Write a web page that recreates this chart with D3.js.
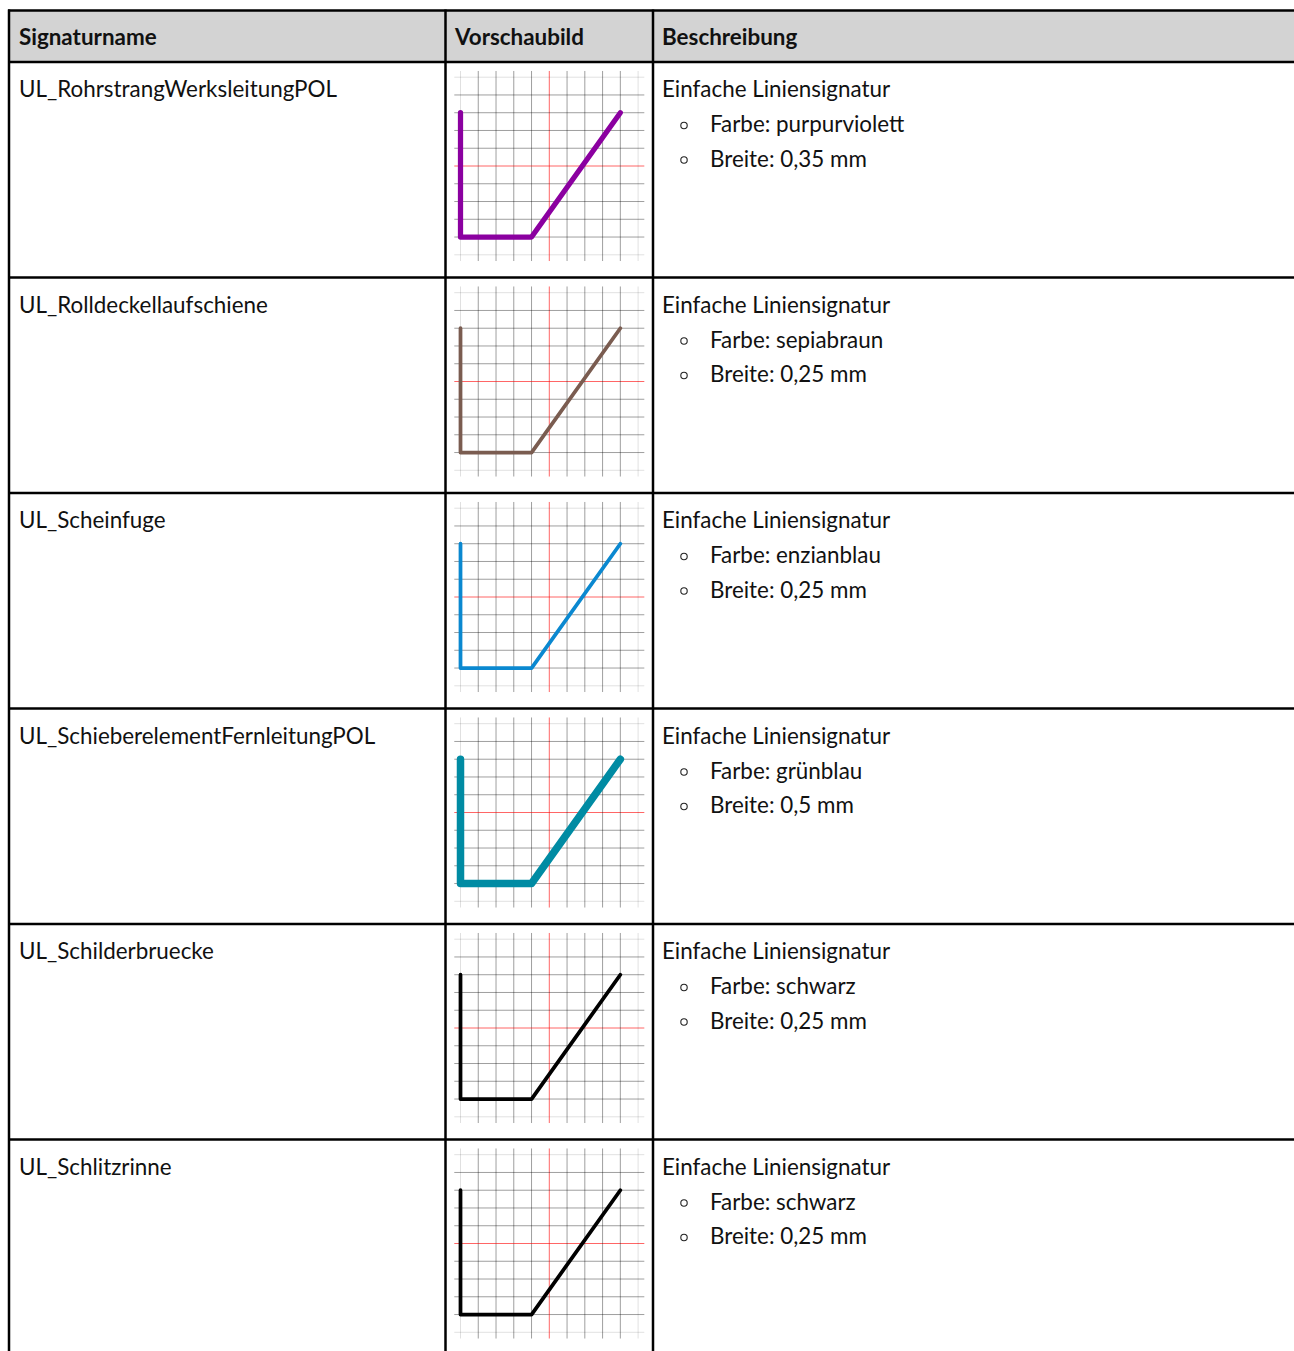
<!DOCTYPE html>
<html><head><meta charset="utf-8">
<script src="https://cdn.jsdelivr.net/npm/d3@7"></script>
<style>body{margin:0;background:#fff}svg{display:block}</style>
</head><body>
<script>
// ---- data ----
const headers = ["Signaturname", "Vorschaubild", "Beschreibung"];
const names = ["UL_RohrstrangWerksleitungPOL", "UL_Rolldeckellaufschiene", "UL_Scheinfuge",
  "UL_SchieberelementFernleitungPOL", "UL_Schilderbruecke", "UL_Schlitzrinne"];
const descTitle = "Einfache Liniensignatur";
const colorNames = ["purpurviolett", "sepiabraun", "enzianblau", "grünblau", "schwarz", "schwarz"];
const colorValues = ["#8b00a0", "#7a5c50", "#0a88d0", "#008ba3", "#000000", "#000000"];
const widthsMm = [0.35, 0.25, 0.25, 0.5, 0.25, 0.25];
const widthLabels = ["0,35", "0,25", "0,25", "0,5", "0,25", "0,25"];
const previewPath = [[-5, 3], [-5, -4], [-1, -4], [4, 3]];
const gridTicks = [-5, -4, -3, -2, -1, 0, 1, 2, 3, 4, 5];

// ---- layout ----
const W = 1294, H = 1351;
const font = "Lato, 'Open Sans', sans-serif";
const fs = 22.4;
const xLeft = 9, xCol1 = 445.5, xCol2 = 653;
const yTop = 10.5, yHead = 62, rowH = 215.5;
const svg = d3.select("body").append("svg").attr("width", W).attr("height", H);

svg.append("rect").attr("x", xLeft).attr("y", yTop).attr("width", W - xLeft + 5).attr("height", yHead - yTop)
  .attr("fill", "#d3d3d3");

const hx = [19, 455, 662];
svg.selectAll("text.h").data(headers).join("text").attr("class", "h")
  .attr("x", (d, i) => hx[i]).attr("y", 45)
  .attr("font-family", font).attr("font-weight", "bold").attr("font-size", fs).attr("fill", "#111")
  .text(d => d);

const rows = svg.selectAll("g.row").data(names).join("g").attr("class", "row")
  .attr("transform", (d, i) => `translate(0,${yHead + i * rowH})`);

rows.append("text").attr("x", 19).attr("y", 35)
  .attr("font-family", font).attr("font-size", fs).attr("fill", "#111").text(d => d);

rows.append("text").attr("x", 662).attr("y", 35)
  .attr("font-family", font).attr("font-size", fs).attr("fill", "#111").text(descTitle);

rows.each(function (d, i) {
  const g = d3.select(this);
  const items = ["Farbe: " + colorNames[i], "Breite: " + widthLabels[i] + " mm"];
  items.forEach((t, k) => {
    g.append("circle").attr("cx", 684).attr("cy", 63.5 + k * 34.5).attr("r", 3.2)
      .attr("fill", "none").attr("stroke", "#222").attr("stroke-width", 1.1);
    g.append("text").attr("x", 710).attr("y", 70 + k * 34.5)
      .attr("font-family", font).attr("font-size", fs).attr("fill", "#111").text(t);
  });

  // preview
  const cx = 549.3, cy = 104;
  const sx = d3.scaleLinear().domain([-5, 5]).range([cx - 88.8, cx + 88.8]);
  const sy = d3.scaleLinear().domain([-5, 5]).range([cy + 88.8, cy - 88.8]);
  const pg = g.append("g");
  const ext = 5.35;
  gridTicks.forEach(t => {
    const col = t === 0 ? "rgba(255,0,0,0.6)" : (Math.abs(t) === 5 ? "rgba(0,0,0,0.12)" : "rgba(0,0,0,0.38)");
    pg.append("line").attr("x1", sx(t)).attr("x2", sx(t)).attr("y1", sy(ext)).attr("y2", sy(-ext))
      .attr("stroke", col).attr("stroke-width", 1);
    pg.append("line").attr("y1", sy(t)).attr("y2", sy(t)).attr("x1", sx(-ext)).attr("x2", sx(ext))
      .attr("stroke", col).attr("stroke-width", 1);
  });
  const line = d3.line().x(p => sx(p[0])).y(p => sy(p[1]));
  pg.append("path").attr("d", line(previewPath)).attr("fill", "none")
    .attr("stroke", colorValues[i]).attr("stroke-width", widthsMm[i] * 15)
    .attr("stroke-linecap", "round").attr("stroke-linejoin", "round");
});

// borders
const bw = 2.5;
const hLines = [yTop, yHead].concat(names.map((d, i) => yHead + (i + 1) * rowH));
svg.selectAll("line.hb").data(hLines).join("line").attr("class", "hb")
  .attr("x1", xLeft - 1).attr("x2", W).attr("y1", d => d).attr("y2", d => d)
  .attr("stroke", "#000").attr("stroke-width", bw);
svg.selectAll("line.vb").data([xLeft, xCol1, xCol2]).join("line").attr("class", "vb")
  .attr("x1", d => d).attr("x2", d => d).attr("y1", yTop - 1).attr("y2", H)
  .attr("stroke", "#000").attr("stroke-width", bw);
</script>
</body></html>
